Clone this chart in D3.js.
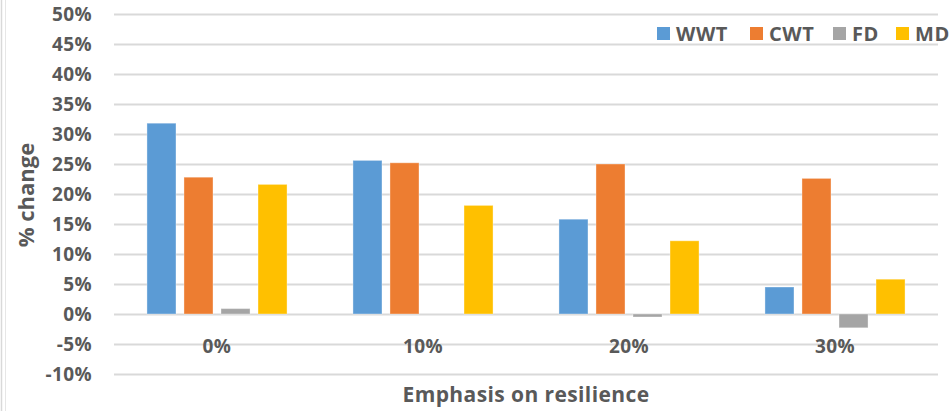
<!DOCTYPE html>
<html>
<head>
<meta charset="utf-8">
<script src="https://cdn.jsdelivr.net/npm/d3@7"></script>
<style>
  html, body { margin: 0; padding: 0; background: #fff; }
  svg { display: block; font-family: "Open Sans", "DejaVu Sans", sans-serif; }
</style>
</head>
<body>
<svg id="chart" width="951" height="411"></svg>
<script>
// Emphasis-on-resilience levels along the x axis
const categories = ["0%", "10%", "20%", "30%"];
// Series shown in the legend
const seriesNames = ["WWT", "CWT", "FD", "MD"];
const seriesColors = ["#5B9BD5", "#ED7D31", "#A5A5A5", "#FFC000"];
// % change per series, one value per category
const wwt = [31.8, 25.6, 15.8, 4.5];
const cwt = [22.8, 25.2, 25.0, 22.6];
const fd  = [0.9, 0.0, -0.5, -2.3];
const md  = [21.6, 18.1, 12.2, 5.8];
// Y axis ticks
const yTicks = [-10, -5, 0, 5, 10, 15, 20, 25, 30, 35, 40, 45, 50];

const seriesValues = [wwt, cwt, fd, md];
const svg = d3.select("#chart");
const W = 951, H = 411;
const plot = { left: 114, right: 938, top: 14, bottom: 374 };
const textGray = "#595959";

// outer frame edge on the left
svg.append("line").attr("x1", 1.5).attr("x2", 1.5).attr("y1", 0).attr("y2", H)
  .attr("stroke", "#d9d9d9").attr("stroke-width", 1.5);
svg.append("line").attr("x1", 5.5).attr("x2", 5.5).attr("y1", 0).attr("y2", H)
  .attr("stroke", "#e6e6e6").attr("stroke-width", 1);

const y = d3.scaleLinear().domain([-10, 50]).range([plot.bottom, plot.top]);
const x0 = d3.scaleBand().domain(categories).range([plot.left, plot.right])
  .paddingInner(0.32).paddingOuter(0.16);
const x1 = d3.scaleBand().domain(seriesNames).range([0, x0.bandwidth()]).paddingInner(0.216);
const color = d3.scaleOrdinal().domain(seriesNames).range(seriesColors);

// gridlines + tick labels via axis
const yAxis = d3.axisLeft(y).tickValues(yTicks)
  .tickSize(-(plot.right - plot.left)).tickFormat(d => d + "%").tickPadding(22);
const gy = svg.append("g").attr("transform", `translate(${plot.left},0)`).call(yAxis);
gy.select(".domain").remove();
gy.selectAll(".tick line").attr("stroke", "#d9d9d9").attr("stroke-width", 2);
gy.selectAll(".tick text").attr("fill", textGray).attr("font-size", 19)
  .attr("font-weight", 700).attr("letter-spacing", 0.4)
  .attr("font-family", "'Open Sans', sans-serif");

// bars
const rows = categories.map((c, i) => ({ cat: c, vals: seriesNames.map((s, j) => ({ s, v: seriesValues[j][i] })) }));
const groups = svg.append("g").selectAll("g").data(rows).join("g")
  .attr("transform", d => `translate(${x0(d.cat)},0)`);
groups.selectAll("rect").data(d => d.vals).join("rect")
  .attr("x", d => x1(d.s))
  .attr("width", x1.bandwidth())
  .attr("y", d => y(Math.max(0, d.v)))
  .attr("height", d => Math.abs(y(d.v) - y(0)))
  .attr("fill", d => color(d.s))
  .attr("stroke", "#ffffff").attr("stroke-opacity", 0.35).attr("stroke-width", 1);

// category labels
const xAxis = d3.axisBottom(x0).tickSize(0).tickPadding(0);
const gx = svg.append("g").attr("transform", `translate(0,${y(-5) - 5})`).call(xAxis);
gx.select(".domain").remove();
gx.selectAll(".tick text").attr("fill", textGray).attr("font-size", 19)
  .attr("font-weight", 700).attr("letter-spacing", 0.4)
  .attr("font-family", "'Open Sans', sans-serif");

// axis titles
svg.append("text").attr("x", 526).attr("y", 402).attr("text-anchor", "middle")
  .attr("fill", textGray).attr("font-size", 21).attr("font-weight", 700)
  .attr("letter-spacing", 0.4)
  .text("Emphasis on resilience");
svg.append("text").attr("transform", "translate(34,195) rotate(-90)").attr("text-anchor", "middle")
  .attr("fill", textGray).attr("font-size", 22).attr("font-weight", 700)
  .text("% change");

// legend
const legendX = [657, 750, 833, 896];
const lg = svg.append("g").selectAll("g").data(seriesNames).join("g")
  .attr("transform", (d, i) => `translate(${legendX[i]},27)`);
lg.append("rect").attr("width", 13).attr("height", 13).attr("fill", d => color(d));
lg.append("text").attr("x", 19).attr("y", 14).attr("fill", textGray)
  .attr("font-size", 20).attr("font-weight", 700).attr("letter-spacing", 0.6)
  .text(d => d);
</script>
</body>
</html>
